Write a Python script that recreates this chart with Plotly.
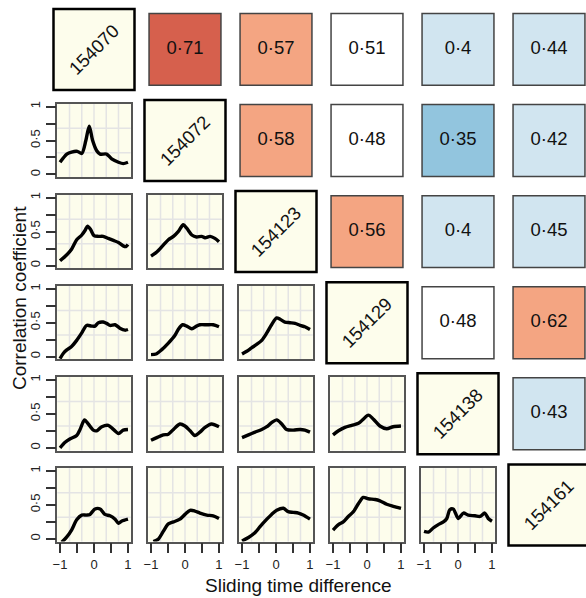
import plotly.graph_objects as go

# ---------------- data ----------------
labels = ["154070", "154072", "154123", "154129", "154138", "154161"]

# upper-triangle correlation values: (row, col, value)
corr_rows = [1, 1, 1, 1, 1, 2, 2, 2, 2, 3, 3, 3, 4, 4, 5]
corr_cols = [2, 3, 4, 5, 6, 3, 4, 5, 6, 4, 5, 6, 5, 6, 6]
corr_vals = [0.71, 0.57, 0.51, 0.40, 0.44, 0.58, 0.48, 0.35, 0.42,
             0.56, 0.40, 0.45, 0.48, 0.62, 0.43]

# lower-triangle sliding correlation curves
lag_r2c1 = [-1.0, -0.80, -0.66, -0.49, -0.36, -0.24, -0.14, -0.04, 0.08, 0.18, 0.37, 0.52, 0.72, 0.86, 1.0]
cor_r2c1 = [0.18, 0.30, 0.33, 0.34, 0.31, 0.50, 0.71, 0.50, 0.35, 0.30, 0.30, 0.23, 0.18, 0.16, 0.18]

lag_r3c1 = [-1.0, -0.80, -0.66, -0.51, -0.36, -0.26, -0.19, -0.10, 0.0, 0.13, 0.27, 0.42, 0.57, 0.72, 0.86, 0.94, 1.0]
cor_r3c1 = [0.07, 0.16, 0.24, 0.38, 0.45, 0.52, 0.58, 0.53, 0.44, 0.43, 0.43, 0.40, 0.37, 0.34, 0.29, 0.28, 0.31]

lag_r3c2 = [-1.0, -0.83, -0.64, -0.49, -0.34, -0.20, -0.05, 0.05, 0.20, 0.34, 0.49, 0.59, 0.74, 0.88, 1.0]
cor_r3c2 = [0.14, 0.20, 0.30, 0.38, 0.43, 0.50, 0.60, 0.55, 0.45, 0.42, 0.43, 0.41, 0.43, 0.40, 0.35]

lag_r4c1 = [-1.0, -0.90, -0.80, -0.66, -0.51, -0.36, -0.22, -0.07, 0.03, 0.13, 0.27, 0.37, 0.47, 0.62, 0.76, 0.91, 1.0]
cor_r4c1 = [-0.03, 0.05, 0.10, 0.15, 0.24, 0.35, 0.46, 0.45, 0.45, 0.50, 0.51, 0.49, 0.46, 0.47, 0.42, 0.39, 0.40]

lag_r4c2 = [-1.0, -0.85, -0.69, -0.49, -0.29, -0.20, -0.07, 0.05, 0.20, 0.34, 0.44, 0.64, 0.83, 1.0]
cor_r4c2 = [0.03, 0.04, 0.10, 0.20, 0.32, 0.40, 0.47, 0.45, 0.41, 0.45, 0.47, 0.47, 0.47, 0.44]

lag_r4c3 = [-1.0, -0.86, -0.72, -0.57, -0.42, -0.27, -0.13, 0.02, 0.12, 0.26, 0.41, 0.56, 0.71, 0.85, 1.0]
cor_r4c3 = [0.04, 0.08, 0.13, 0.18, 0.24, 0.35, 0.47, 0.57, 0.55, 0.51, 0.50, 0.49, 0.46, 0.44, 0.40]

lag_r5c1 = [-1.0, -0.85, -0.71, -0.51, -0.41, -0.28, -0.17, -0.02, 0.08, 0.23, 0.42, 0.57, 0.72, 0.86, 1.0]
cor_r5c1 = [0.00, 0.08, 0.13, 0.18, 0.27, 0.41, 0.35, 0.26, 0.25, 0.31, 0.33, 0.27, 0.21, 0.26, 0.27]

lag_r5c2 = [-1.0, -0.83, -0.64, -0.49, -0.34, -0.15, 0.0, 0.15, 0.29, 0.44, 0.59, 0.78, 1.0]
cor_r5c2 = [0.11, 0.15, 0.19, 0.20, 0.27, 0.35, 0.32, 0.25, 0.18, 0.23, 0.30, 0.35, 0.31]

lag_r5c3 = [-1.0, -0.81, -0.62, -0.42, -0.27, -0.13, 0.02, 0.17, 0.31, 0.51, 0.71, 0.85, 1.0]
cor_r5c3 = [0.15, 0.19, 0.23, 0.27, 0.31, 0.37, 0.41, 0.35, 0.27, 0.26, 0.27, 0.26, 0.23]

lag_r5c4 = [-1.0, -0.84, -0.65, -0.45, -0.25, -0.11, 0.04, 0.19, 0.38, 0.58, 0.77, 1.0]
cor_r5c4 = [0.19, 0.25, 0.30, 0.33, 0.36, 0.42, 0.48, 0.42, 0.32, 0.28, 0.31, 0.32]

lag_r6c1 = [-0.95, -0.80, -0.66, -0.51, -0.36, -0.22, -0.12, 0.03, 0.18, 0.32, 0.47, 0.62, 0.72, 0.81, 1.0]
cor_r6c1 = [-0.05, 0.03, 0.13, 0.28, 0.35, 0.35, 0.36, 0.44, 0.44, 0.36, 0.34, 0.29, 0.23, 0.26, 0.29]

lag_r6c2 = [-0.93, -0.78, -0.64, -0.49, -0.34, -0.15, 0.0, 0.15, 0.29, 0.44, 0.64, 0.83, 1.0]
cor_r6c2 = [-0.04, 0.00, 0.11, 0.22, 0.25, 0.29, 0.36, 0.42, 0.41, 0.38, 0.35, 0.34, 0.30]

lag_r6c3 = [-1.0, -0.81, -0.62, -0.47, -0.27, -0.13, 0.02, 0.22, 0.36, 0.51, 0.66, 0.80, 1.0]
cor_r6c3 = [-0.03, 0.02, 0.09, 0.18, 0.29, 0.36, 0.42, 0.45, 0.40, 0.39, 0.38, 0.35, 0.29]

lag_r6c4 = [-1.0, -0.84, -0.70, -0.55, -0.40, -0.25, -0.11, 0.04, 0.24, 0.38, 0.58, 0.77, 1.0]
cor_r6c4 = [0.13, 0.21, 0.25, 0.33, 0.40, 0.52, 0.61, 0.59, 0.58, 0.56, 0.51, 0.48, 0.45]

lag_r6c5 = [-1.0, -0.87, -0.73, -0.58, -0.43, -0.33, -0.24, -0.14, 0.01, 0.16, 0.30, 0.50, 0.65, 0.79, 0.89, 1.0]
cor_r6c5 = [0.11, 0.10, 0.16, 0.21, 0.25, 0.30, 0.43, 0.44, 0.30, 0.38, 0.35, 0.34, 0.33, 0.38, 0.30, 0.26]

curves = {
    (2, 1): (lag_r2c1, cor_r2c1),
    (3, 1): (lag_r3c1, cor_r3c1), (3, 2): (lag_r3c2, cor_r3c2),
    (4, 1): (lag_r4c1, cor_r4c1), (4, 2): (lag_r4c2, cor_r4c2), (4, 3): (lag_r4c3, cor_r4c3),
    (5, 1): (lag_r5c1, cor_r5c1), (5, 2): (lag_r5c2, cor_r5c2), (5, 3): (lag_r5c3, cor_r5c3),
    (5, 4): (lag_r5c4, cor_r5c4),
    (6, 1): (lag_r6c1, cor_r6c1), (6, 2): (lag_r6c2, cor_r6c2), (6, 3): (lag_r6c3, cor_r6c3),
    (6, 4): (lag_r6c4, cor_r6c4), (6, 5): (lag_r6c5, cor_r6c5),
}

x_tickvals = [-1, -0.5, 0, 0.5, 1]
x_ticktext = ["\u22121", "", "0", "", "1"]
y_tickvals = [0, 0.25, 0.5, 0.75, 1]
y_ticktext = ["0", "", "0\u00b75", "", "1"]

# ---------------- geometry ----------------
W, H = 586, 598
PITCH_X, PITCH_Y = 91.0, 91.1
BOX = 73.4
X0, Y0 = 57.3, 12.7          # left / top of the first panel box (px)
XR = [-1.08, 1.08]
YR = [-0.04, 1.04]
FONT = "Liberation Sans, Arial, Helvetica, sans-serif"
IVORY = "#fdfdec"
GRIDC = "#e4e4e4"


def corr_color(v):
    if v >= 0.65:
        return "#d6604d"
    if v >= 0.55:
        return "#f4a582"
    if v >= 0.46:
        return "#ffffff"
    if v >= 0.38:
        return "#d1e5f0"
    return "#92c5de"


fig = go.Figure()
layout = dict(width=W, height=H, margin=dict(l=0, r=0, t=0, b=0, autoexpand=False),
              paper_bgcolor="white", plot_bgcolor="rgba(0,0,0,0)",
              showlegend=False, font=dict(family=FONT, color="#111"))
shapes = []
annotations = []

k = 0
for (r, c), (xs, ys) in curves.items():
    k += 1
    xa = "x" if k == 1 else f"x{k}"
    ya = "y" if k == 1 else f"y{k}"
    left = X0 + PITCH_X * (c - 1)
    top = Y0 + PITCH_Y * (r - 1)
    xdom = [left / W, (left + BOX) / W]
    ydom = [1 - (top + BOX) / H, 1 - top / H]
    bottom_row = (r == 6)
    first_col = (c == 1)
    layout["xaxis" if k == 1 else f"xaxis{k}"] = dict(
        domain=xdom, anchor=ya, range=XR, showgrid=False, zeroline=False,
        showline=True, mirror=True, linecolor="#555", linewidth=1.5,
        tickmode="array", tickvals=x_tickvals, ticktext=x_ticktext,
        ticks="outside" if bottom_row else "", ticklen=10, tickwidth=1.5, tickcolor="#333",
        showticklabels=bottom_row, tickfont=dict(size=13, color="#222"),
    )
    layout["yaxis" if k == 1 else f"yaxis{k}"] = dict(
        domain=ydom, anchor=xa, range=YR, showgrid=False, zeroline=False,
        showline=True, mirror=True, linecolor="#555", linewidth=1.5,
        tickmode="array", tickvals=y_tickvals, ticktext=y_ticktext,
        ticks="outside" if first_col else "", ticklen=10, tickwidth=1.5, tickcolor="#333",
        showticklabels=first_col, tickangle=-90, tickfont=dict(size=13, color="#222"),
    )
    # panel background
    shapes.append(dict(type="rect", xref=f"{xa} domain", yref=f"{ya} domain",
                       x0=0, x1=1, y0=0, y1=1, fillcolor=IVORY, line_width=0, layer="below"))
    # grid: 6 vertical / 3 horizontal divisions of the plotting region
    for i in range(1, 6):
        shapes.append(dict(type="line", xref=f"{xa} domain", yref=f"{ya} domain",
                           x0=i / 6, x1=i / 6, y0=0, y1=1,
                           line=dict(color=GRIDC, width=1.5), layer="below"))
    for i in range(1, 3):
        shapes.append(dict(type="line", xref=f"{xa} domain", yref=f"{ya} domain",
                           x0=0, x1=1, y0=i / 3, y1=i / 3,
                           line=dict(color=GRIDC, width=1.5), layer="below"))
    fig.add_trace(go.Scatter(x=xs, y=ys, mode="lines", xaxis=xa, yaxis=ya,
                             line=dict(color="black", width=3.4, shape="spline", smoothing=0.8),
                             hoverinfo="skip"))

# overlay axis for the correlation cells and diagonal labels (cell index units)
k += 1
ox, oy = f"x{k}", f"y{k}"
cx1 = X0 + BOX / 2
cy1 = Y0 + BOX / 2
layout[f"xaxis{k}"] = dict(domain=[0, 1], anchor=oy,
                           range=[1 - cx1 / PITCH_X, 1 + (W - cx1) / PITCH_X],
                           visible=False, fixedrange=True)
layout[f"yaxis{k}"] = dict(domain=[0, 1], anchor=ox,
                           range=[1 + (H - cy1) / PITCH_Y, 1 - cy1 / PITCH_Y],
                           visible=False, fixedrange=True)

fig.add_trace(go.Scatter(
    x=corr_cols, y=corr_rows, mode="markers+text", xaxis=ox, yaxis=oy,
    marker=dict(symbol="square", size=BOX - 1.5,
                color=[corr_color(v) for v in corr_vals],
                line=dict(color="#444", width=1.5)),
    text=[f"{v:g}".replace(".", "\u00b7") for v in corr_vals],
    textposition="middle center", textfont=dict(size=18.5, color="#111", family=FONT),
    cliponaxis=False, hoverinfo="skip"))

diag = list(range(1, len(labels) + 1))
fig.add_trace(go.Scatter(
    x=diag, y=diag, mode="markers", xaxis=ox, yaxis=oy,
    marker=dict(symbol="square", size=81, color=IVORY,
                line=dict(color="black", width=2.5)),
    cliponaxis=False, hoverinfo="skip"))
for i, lab in enumerate(labels):
    annotations.append(dict(x=diag[i], y=diag[i], xref=ox, yref=oy, text=lab,
                            showarrow=False, textangle=-45,
                            xanchor="center", yanchor="middle",
                            font=dict(size=18.5, color="#111", family=FONT)))

# axis titles
annotations.append(dict(x=19 / W, y=1 - 298 / H, xref="paper", yref="paper",
                        text="Correlation coefficient", showarrow=False, textangle=-90,
                        xanchor="center", yanchor="middle",
                        font=dict(size=19, color="#111", family=FONT)))
annotations.append(dict(x=298 / W, y=1 - 585 / H, xref="paper", yref="paper",
                        text="Sliding time difference", showarrow=False,
                        xanchor="center", yanchor="middle",
                        font=dict(size=19, color="#111", family=FONT)))

layout["shapes"] = shapes
layout["annotations"] = annotations
fig.update_layout(**layout)
fig.write_html("out.html", config={"displayModeBar": False},
               post_script="document.body.style.margin='0';document.body.style.padding='0';")
